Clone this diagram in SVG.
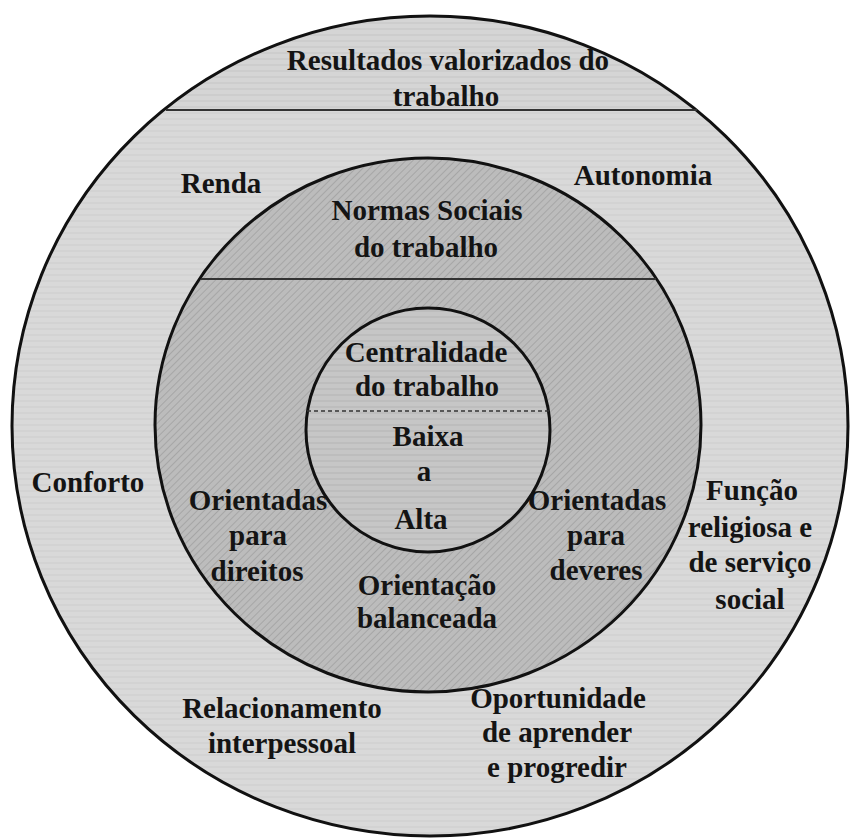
<svg xmlns="http://www.w3.org/2000/svg" width="850" height="838" viewBox="0 0 850 838">
  <defs>
    <style>
      .lbl { font-family: 'Liberation Serif', 'DejaVu Serif', serif; font-weight: 700; font-size: 29px; fill: #141414; text-anchor: middle; }
      .ring { stroke: #111; stroke-width: 3; }
      .divider { stroke: #333; stroke-width: 2; fill: none; }
    </style>
    <!-- fine diagonal hatch used for the social norms ring -->
    <pattern id="hatch" width="5" height="5" patternUnits="userSpaceOnUse" patternTransform="rotate(45)">
      <rect width="5" height="5" fill="#bcbcbc"/>
      <line x1="0" y1="0" x2="0" y2="5" stroke="#a6a6a6" stroke-width="2"/>
    </pattern>
    <!-- faint horizontal banding for the outer and inner areas -->
    <pattern id="bandsLight" width="6" height="6" patternUnits="userSpaceOnUse">
      <rect width="6" height="6" fill="#d9d9d9"/>
      <line x1="0" y1="5" x2="6" y2="5" stroke="#cdcdcd" stroke-width="1"/>
    </pattern>
    <pattern id="bandsCap" width="6" height="6" patternUnits="userSpaceOnUse">
      <rect width="6" height="6" fill="#d5d5d5"/>
      <line x1="0" y1="5" x2="6" y2="5" stroke="#c6c6c6" stroke-width="1"/>
    </pattern>
    <pattern id="bandsInner" width="6" height="6" patternUnits="userSpaceOnUse">
      <rect width="6" height="6" fill="#c6c6c6"/>
      <line x1="0" y1="5" x2="6" y2="5" stroke="#b4b4b4" stroke-width="1"/>
    </pattern>
    <clipPath id="outerClip">
      <ellipse cx="430" cy="426" rx="418" ry="410"/>
    </clipPath>
  </defs>

  <rect width="850" height="838" fill="#ffffff"/>

  <!-- outer ring: valued work outcomes -->
  <g id="outer-ring">
    <ellipse cx="430" cy="426" rx="418" ry="410" fill="url(#bandsLight)"/>
    <rect x="0" y="0" width="850" height="110" fill="url(#bandsCap)" clip-path="url(#outerClip)"/>
    <ellipse cx="430" cy="426" rx="418" ry="410" fill="none" class="ring"/>
    <line x1="166" y1="110" x2="697" y2="110" class="divider"/>
  </g>

  <!-- middle ring: social norms of work -->
  <g id="middle-ring">
    <ellipse cx="428" cy="425" rx="273" ry="267" fill="url(#hatch)" class="ring"/>
    <line x1="201" y1="279" x2="656" y2="279" class="divider"/>
  </g>

  <!-- inner circle: work centrality -->
  <g id="inner-circle">
    <circle cx="428" cy="430" r="122" fill="url(#bandsInner)" class="ring"/>
    <line x1="307" y1="411" x2="549" y2="411" stroke="#333" stroke-width="1.5" stroke-dasharray="4 3"/>
  </g>

  <g id="label-resultados">
    <text class="lbl" x="448" y="70">Resultados valorizados do</text>
    <text class="lbl" x="446" y="106">trabalho</text>
  </g>
  <g id="label-renda"><text class="lbl" x="221" y="193">Renda</text></g>
  <g id="label-autonomia"><text class="lbl" x="643" y="185">Autonomia</text></g>
  <g id="label-normas">
    <text class="lbl" x="427" y="220">Normas Sociais</text>
    <text class="lbl" x="426" y="257">do trabalho</text>
  </g>
  <g id="label-centralidade">
    <text class="lbl" x="426" y="362">Centralidade</text>
    <text class="lbl" x="427" y="396">do trabalho</text>
  </g>
  <g id="label-escala">
    <text class="lbl" x="428" y="446">Baixa</text>
    <text class="lbl" x="424" y="481">a</text>
    <text class="lbl" x="421" y="529">Alta</text>
  </g>
  <g id="label-conforto"><text class="lbl" x="88" y="492">Conforto</text></g>
  <g id="label-direitos">
    <text class="lbl" x="258" y="510">Orientadas</text>
    <text class="lbl" x="258" y="545">para</text>
    <text class="lbl" x="257" y="581">direitos</text>
  </g>
  <g id="label-deveres">
    <text class="lbl" x="597" y="510">Orientadas</text>
    <text class="lbl" x="596" y="545">para</text>
    <text class="lbl" x="596" y="580">deveres</text>
  </g>
  <g id="label-funcao">
    <text class="lbl" x="752" y="500">Função</text>
    <text class="lbl" x="750" y="537">religiosa e</text>
    <text class="lbl" x="750" y="572">de serviço</text>
    <text class="lbl" x="750" y="609">social</text>
  </g>
  <g id="label-balanceada">
    <text class="lbl" x="427" y="595">Orientação</text>
    <text class="lbl" x="427" y="628">balanceada</text>
  </g>
  <g id="label-relacionamento">
    <text class="lbl" x="282" y="718">Relacionamento</text>
    <text class="lbl" x="282" y="753">interpessoal</text>
  </g>
  <g id="label-oportunidade">
    <text class="lbl" x="558" y="708">Oportunidade</text>
    <text class="lbl" x="557" y="742">de aprender</text>
    <text class="lbl" x="557" y="777">e progredir</text>
  </g>
</svg>
